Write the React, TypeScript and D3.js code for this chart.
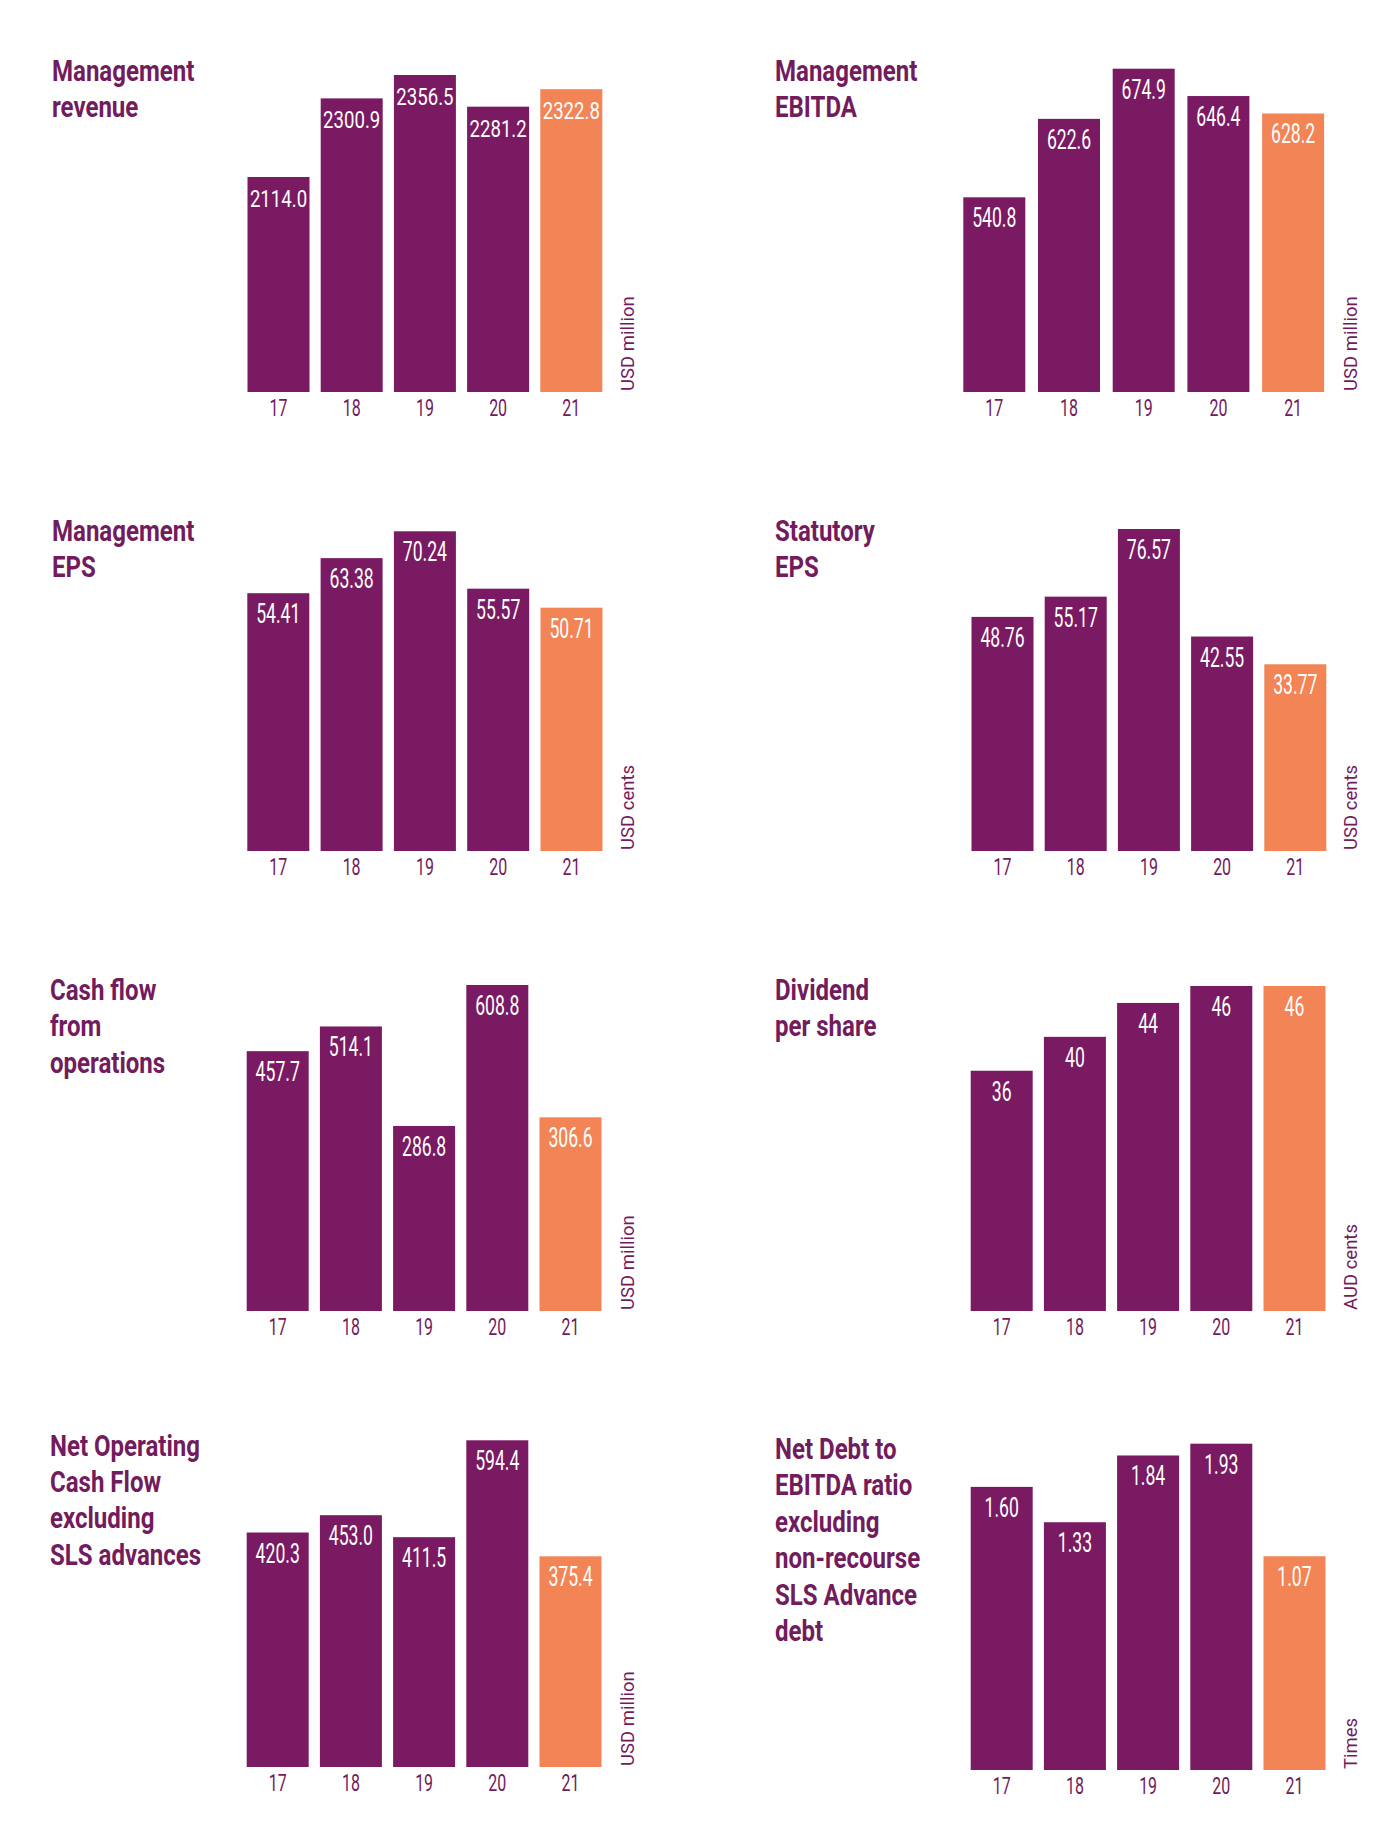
import React from 'react';
import * as d3 from 'd3';

// Years on the x axis
const years = ['17', '18', '19', '20', '21'];

// Series values
const managementRevenue = [2114.0, 2300.9, 2356.5, 2281.2, 2322.8];
const managementEbitda = [540.8, 622.6, 674.9, 646.4, 628.2];
const managementEps = [54.41, 63.38, 70.24, 55.57, 50.71];
const statutoryEps = [48.76, 55.17, 76.57, 42.55, 33.77];
const cashFlowOps = [457.7, 514.1, 286.8, 608.8, 306.6];
const dividendPerShare = [36, 40, 44, 46, 46];
const netOperatingCashFlow = [420.3, 453.0, 411.5, 594.4, 375.4];
const netDebtToEbitda = [1.6, 1.33, 1.84, 1.93, 1.07];

// Labels printed in the bars
const managementRevenueLabels = ['2114.0', '2300.9', '2356.5', '2281.2', '2322.8'];
const managementEbitdaLabels = ['540.8', '622.6', '674.9', '646.4', '628.2'];
const managementEpsLabels = ['54.41', '63.38', '70.24', '55.57', '50.71'];
const statutoryEpsLabels = ['48.76', '55.17', '76.57', '42.55', '33.77'];
const cashFlowOpsLabels = ['457.7', '514.1', '286.8', '608.8', '306.6'];
const dividendPerShareLabels = ['36', '40', '44', '46', '46'];
const netOperatingCashFlowLabels = ['420.3', '453.0', '411.5', '594.4', '375.4'];
const netDebtToEbitdaLabels = ['1.60', '1.33', '1.84', '1.93', '1.07'];

// Value at which each (hidden) axis starts
const axisFloors = [1603, 337.8, -11.5, -25.3, -135.7, 7.65, -22.4, -0.563];

const titles = [
  ['Management', 'revenue'],
  ['Management', 'EBITDA'],
  ['Management', 'EPS'],
  ['Statutory', 'EPS'],
  ['Cash flow', 'from', 'operations'],
  ['Dividend', 'per share'],
  ['Net Operating', 'Cash Flow', 'excluding', 'SLS advances'],
  ['Net Debt to', 'EBITDA ratio', 'excluding', 'non-recourse', 'SLS Advance', 'debt'],
];

const units = ['USD million', 'USD million', 'USD cents', 'USD cents', 'USD million', 'AUD cents', 'USD million', 'Times'];

const series = [
  managementRevenue,
  managementEbitda,
  managementEps,
  statutoryEps,
  cashFlowOps,
  dividendPerShare,
  netOperatingCashFlow,
  netDebtToEbitda,
];
const seriesLabels = [
  managementRevenueLabels,
  managementEbitdaLabels,
  managementEpsLabels,
  statutoryEpsLabels,
  cashFlowOpsLabels,
  dividendPerShareLabels,
  netOperatingCashFlowLabels,
  netDebtToEbitdaLabels,
];

// Layout of the eight panels on the page
const panels = [
  { titleX: 52, titleY: 81, barX: 247.5, step: 73.2, baseline: 392, maxH: 317, unitX: 634 },
  { titleX: 775, titleY: 81, barX: 963.3, step: 74.7, baseline: 392, maxH: 323.3, unitX: 1357 },
  { titleX: 52, titleY: 540.5, barX: 247.3, step: 73.3, baseline: 851, maxH: 319.7, unitX: 634 },
  { titleX: 775, titleY: 540.5, barX: 971.5, step: 73.2, baseline: 851, maxH: 322, unitX: 1357 },
  { titleX: 50, titleY: 1000, barX: 246.7, step: 73.2, baseline: 1311, maxH: 326, unitX: 634 },
  { titleX: 775, titleY: 1000, barX: 970.7, step: 73.2, baseline: 1311, maxH: 325, unitX: 1357 },
  { titleX: 50, titleY: 1455.5, barX: 246.7, step: 73.2, baseline: 1767, maxH: 326.7, unitX: 634 },
  { titleX: 775, titleY: 1459, barX: 970.7, step: 73.2, baseline: 1770, maxH: 326.3, unitX: 1357 },
];

const PURPLE = '#7a1a62';
const ORANGE = '#f28455';
const TEXT = '#721b5d';
const BAR_W = 62;
const FONT = 'Roboto, "Noto Sans", sans-serif';

const Panel: React.FC<{ i: number }> = ({ i }) => {
  const p = panels[i];
  const values = series[i];
  const labels = seriesLabels[i];

  const x = d3
    .scaleBand()
    .domain(years)
    .range([p.barX, p.barX + 4 * p.step + BAR_W])
    .paddingInner(1 - BAR_W / p.step)
    .paddingOuter(0);

  const y = d3
    .scaleLinear()
    .domain([axisFloors[i], d3.max(values)!])
    .range([p.baseline, p.baseline - p.maxH]);

  return (
    <g>
      {/* Title */}
      {titles[i].map((line, k) => (
        <text
          key={k}
          transform={`translate(${p.titleX},${p.titleY + k * 36.4}) scale(0.815,1)`}
          fontFamily={FONT}
          fontWeight={700}
          fontSize={29.5}
          fill={TEXT}
        >
          {line}
        </text>
      ))}

      {/* Bars */}
      {values.map((v, k) => (
        <rect
          key={years[k]}
          x={x(years[k])!}
          y={y(v)}
          width={x.bandwidth()}
          height={p.baseline - y(v)}
          fill={k === values.length - 1 ? ORANGE : PURPLE}
        />
      ))}

      {/* Value labels */}
      {values.map((v, k) => {
        const long = labels[k].length > 5;
        return (
          <text
            key={`l${k}`}
            transform={`translate(${x(years[k])! + x.bandwidth() / 2},${y(v) + 30}) scale(${long ? 0.76 : 0.64},1)`}
            textAnchor="middle"
            fontFamily={FONT}
            fontWeight={400}
            fontSize={long ? 24.5 : 27.5}
            fill="#ffffff"
          >
            {labels[k]}
          </text>
        );
      })}

      {/* Year ticks */}
      {years.map(yr => (
        <text
          key={`t${yr}`}
          transform={`translate(${x(yr)! + x.bandwidth() / 2},${p.baseline + 23.5}) scale(0.68,1)`}
          textAnchor="middle"
          fontFamily={FONT}
          fontWeight={400}
          fontSize={23.5}
          fill={TEXT}
        >
          {yr}
        </text>
      ))}

      {/* Unit */}
      <text
        transform={`translate(${p.unitX},${p.baseline - 1}) rotate(-90)`}
        fontFamily={FONT}
        fontWeight={400}
        fontSize={18.5}
        fill={TEXT}
      >
        {units[i]}
      </text>
    </g>
  );
};

const App: React.FC = () => (
  <svg
    width={1400}
    height={1843}
    style={{ position: 'absolute', left: 0, top: 0, background: '#ffffff' }}
  >
    <rect width={1400} height={1843} fill="#ffffff" />
    {panels.map((_, i) => (
      <Panel key={i} i={i} />
    ))}
  </svg>
);

export default App;
